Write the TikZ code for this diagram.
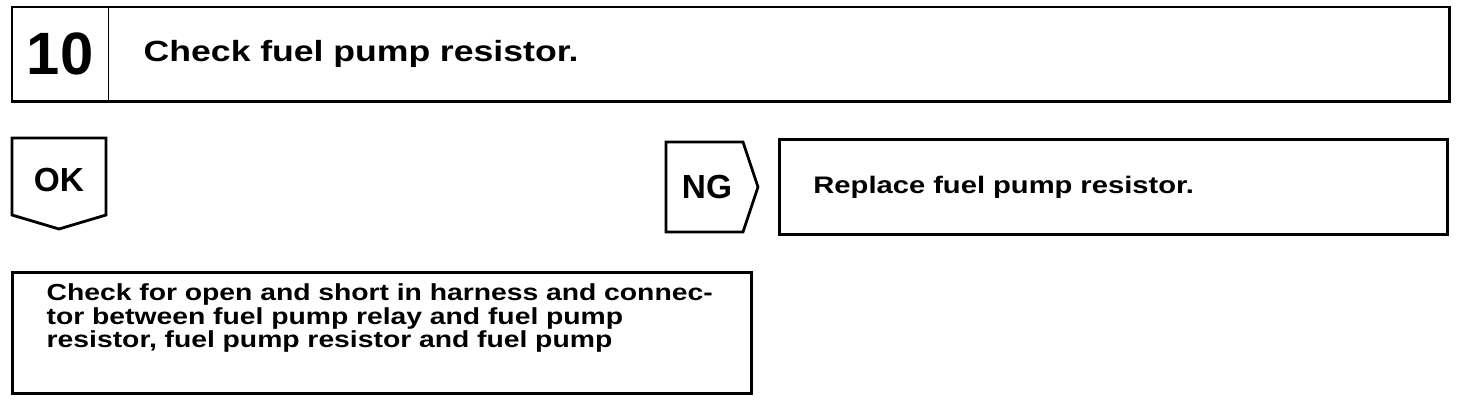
\documentclass[tikz,border=0pt]{standalone}
\usepackage{fontspec}
\setmainfont{Liberation Sans}
\newfontfamily\widefont[FakeStretch=1.22]{Liberation Sans}
\usetikzlibrary{positioning}

\begin{document}
\begin{tikzpicture}[x=0.01cm,y=-0.01cm,
    box/.style={draw,line width=0.8pt,inner sep=0pt},
    tag/.style={font=\bfseries\fontsize{9.5}{10}\selectfont,inner sep=0pt}]
  \useasboundingbox (0,0) rectangle (1472,400);
  % step header
  \node[anchor=north west,minimum width=0.95cm,minimum height=0.93cm,inner sep=0pt,
    font=\bfseries\fontsize{17}{17}\selectfont] (num) at (12,7) {10};
  \node[anchor=north west,minimum width=13.40cm,minimum height=0.93cm,
    inner xsep=0.36cm,inner ysep=0pt,text width=12.68cm,align=left,
    font=\widefont\bfseries\fontsize{8.3}{10}\selectfont] (title) at (107,7)
    {Check fuel pump resistor.};
  \draw[box] (num.north west) rectangle (title.south east);
  \draw[line width=0.4pt] (num.north east) -- (num.south east);
  % OK branch
  \draw[box] (12,138) -- (106,138) -- (106,215) -- (59,229) -- (12,215) -- cycle;
  \node[tag] (ok) at (59,180) {OK};
  % NG branch
  \draw[box] (666,142) -- (743,142) -- (758,187) -- (743,232) -- (666,232) -- cycle;
  \node[tag] (ng) at (707,187) {NG};
  \node[box,anchor=north west,minimum width=6.68cm,minimum height=0.95cm,
    inner xsep=0.34cm,text width=6.0cm,align=left,
    font=\widefont\bfseries\fontsize{6.8}{8}\selectfont] (replace) at (778,138)
    {Replace fuel pump resistor.};
  % next check
  \node[anchor=north west,text width=6.9cm,inner sep=0pt,
    font=\widefont\bfseries\fontsize{6.6}{6.7}\selectfont] (harnesstxt) at (46,283)
    {\lineskiplimit=-20pt\relax\parindent=0pt\relax
     \baselineskip=0.235cm\relax
     Check for open and short in harness and connec-\newline
     tor between fuel pump relay and fuel pump\newline
     resistor, fuel pump resistor and fuel pump\par};
  \node[box,anchor=north west,minimum width=7.39cm,minimum height=1.21cm] (harness) at (11,271) {};
\end{tikzpicture}
\end{document}
